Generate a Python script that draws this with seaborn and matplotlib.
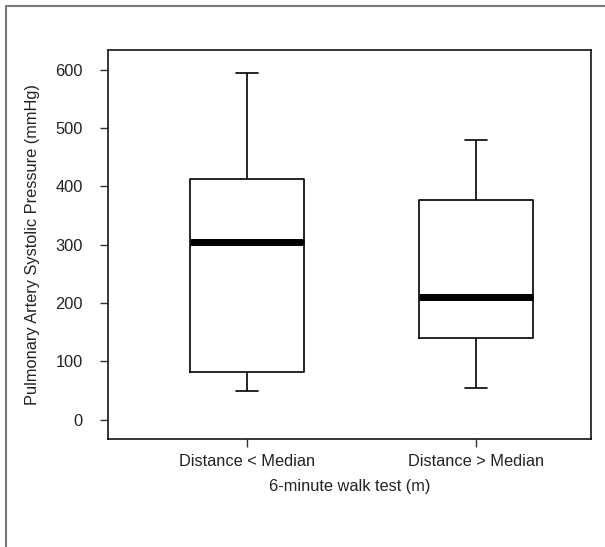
import matplotlib
matplotlib.use("Agg")
import matplotlib.pyplot as plt
import numpy as np
import pandas as pd
import seaborn as sns
from matplotlib.patches import Rectangle

# five-number summaries (min, Q1, median, Q3, max)
groups = ["Distance < Median", "Distance > Median"]
below_median = [50, 82, 305, 412, 595]
above_median = [55, 140, 211, 377, 480]
y_ticks = [0, 100, 200, 300, 400, 500, 600]

df = pd.DataFrame({
    "group": [groups[0]] * len(below_median) + [groups[1]] * len(above_median),
    "pasp": below_median + above_median,
})

sns.set_style("ticks")
plt.rcParams["font.family"] = ["Liberation Sans", "DejaVu Sans"]
FS = 11.8

fig = plt.figure(figsize=(6.05, 5.47), dpi=100)
ax = fig.add_axes([108 / 605, 1 - 439 / 547, (591 - 108) / 605, (439 - 50) / 547])

sns.boxplot(data=df, x="group", y="pasp", order=groups, ax=ax, width=0.5,
            whis=(0, 100), fill=False, color="black", linecolor="black", linewidth=1.2,
            medianprops={"linewidth": 5, "color": "black", "solid_capstyle": "butt"},
            capprops={"linewidth": 1.2})

# shrink whisker caps to R-like short staples
for ln in ax.lines:
    xd = np.asarray(ln.get_xdata(), dtype=float)
    yd = np.asarray(ln.get_ydata(), dtype=float)
    if len(xd) == 2 and yd[0] == yd[1] and abs(abs(xd[1] - xd[0]) - 0.25) < 1e-6:
        c = xd.mean()
        ln.set_xdata([c - 0.046, c + 0.046])

ax.set_xlim(-0.607, 1.502)
ax.set_ylim(-33, 634)
ax.set_yticks(y_ticks)
ax.set_yticklabels([str(t) for t in y_ticks])
for sp in ax.spines.values():
    sp.set_visible(True)
    sp.set_linewidth(1.1)
    sp.set_color("black")
ax.tick_params(axis="both", length=6, width=1, color="#333333", labelsize=FS,
               labelcolor="#222222")
ax.tick_params(axis="x", pad=5)
ax.tick_params(axis="y", pad=12)
ax.set_xlabel("6-minute walk test (m)", fontsize=FS, color="#222222", labelpad=7)
ax.set_ylabel("Pulmonary Artery Systolic Pressure (mmHg)", fontsize=FS,
              color="#222222", labelpad=11)

# cropped outer frame (left and top edges visible)
fig.add_artist(Rectangle((6 / 605, -0.1), 1.2, 1 - 6 / 547 + 0.1,
                         transform=fig.transFigure, fill=False,
                         edgecolor="#7a7a7a", linewidth=1.5))

fig.savefig("out.png", dpi=100)
